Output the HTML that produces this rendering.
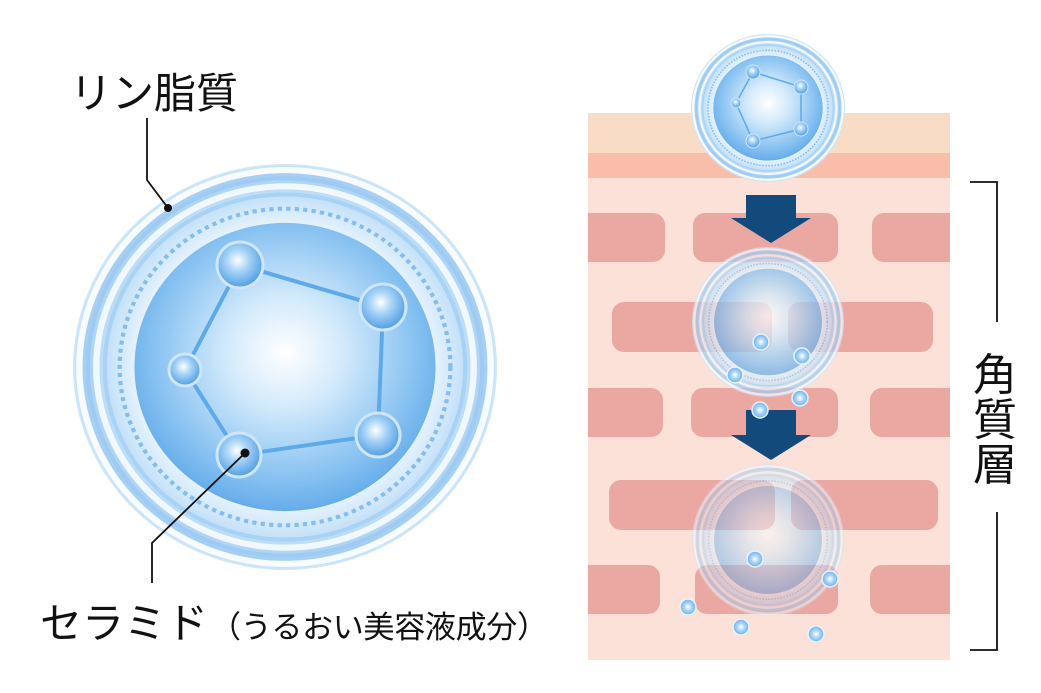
<!DOCTYPE html>
<html><head><meta charset="utf-8"><style>
html,body{margin:0;padding:0;background:#fff;}
svg{display:block;}
text{font-family:"Liberation Sans","Noto Sans CJK JP",sans-serif;fill:#111;}
</style></head><body>
<svg width="1041" height="693" viewBox="0 0 1041 693" xmlns="http://www.w3.org/2000/svg">
<defs>
<radialGradient id="core" cx="50%" cy="45%" r="55%">
<stop offset="0" stop-color="#ffffff"/><stop offset="0.35" stop-color="#d3eafb"/><stop offset="0.8" stop-color="#86c1f1"/><stop offset="1" stop-color="#66acea"/>
</radialGradient>
<radialGradient id="ring" cx="50%" cy="50%" r="50%">
<stop offset="0.7" stop-color="#e6f3fd"/><stop offset="0.85" stop-color="#c2e0f8"/><stop offset="0.95" stop-color="#a4cff4"/><stop offset="1" stop-color="#d2e9fa"/>
</radialGradient>
<radialGradient id="ball" cx="45%" cy="40%" r="60%">
<stop offset="0" stop-color="#ffffff"/><stop offset="0.4" stop-color="#a8d4f7"/><stop offset="1" stop-color="#4f9de3"/>
</radialGradient>
<radialGradient id="drop" cx="50%" cy="50%" r="50%">
<stop offset="0" stop-color="#ffffff"/><stop offset="0.5" stop-color="#a6d3f5"/><stop offset="1" stop-color="#6fb2ea"/>
</radialGradient>
<clipPath id="skin"><rect x="588" y="113" width="362" height="547"/></clipPath>
<g id="cell">
<circle r="100" fill="url(#ring)"/>
<circle r="97" fill="none" stroke="#fff" stroke-width="3" opacity="0.9"/>
<circle r="93" fill="none" stroke="#9fcbf2" stroke-width="2"/>
<circle r="89" fill="none" stroke="#fff" stroke-width="3" opacity="0.8"/>
<circle r="85" fill="none" stroke="#a9d3f5" stroke-width="2"/>
<circle r="78" fill="none" stroke="#86bdec" stroke-width="2" stroke-dasharray="2 2"/>
<circle r="71" fill="url(#core)"/>
</g>
</defs>

<!-- LEFT big cell -->
<g transform="translate(285,367) scale(2.12,2.03)">
<use href="#cell"/>
</g>
<g stroke="#5ea9ea" stroke-width="4" fill="none">
<polyline points="240,265 383,307 378,435 239,455 185,370 240,265"/>
</g>
<g>
<circle cx="240" cy="265" r="23" fill="url(#ball)" stroke="#cfe6fa" stroke-width="3"/>
<circle cx="383" cy="307" r="23" fill="url(#ball)" stroke="#cfe6fa" stroke-width="3"/>
<circle cx="185" cy="370" r="16" fill="url(#ball)" stroke="#cfe6fa" stroke-width="3"/>
<circle cx="239" cy="455" r="22" fill="url(#ball)" stroke="#cfe6fa" stroke-width="3"/>
<circle cx="378" cy="435" r="22" fill="url(#ball)" stroke="#cfe6fa" stroke-width="3"/>
</g>

<!-- leaders -->
<polyline points="147,118 147,180 168,208" fill="none" stroke="#111" stroke-width="1.8"/>
<circle cx="168" cy="208" r="4" fill="#111"/>
<polyline points="245,453 152,543 152,583" fill="none" stroke="#111" stroke-width="1.8"/>
<circle cx="245" cy="453" r="4.5" fill="#111"/>

<text x="70" y="108" font-size="42">リン脂質</text>
<text x="40" y="638" font-size="42">セラミド</text>
<text x="210" y="638" font-size="31" textLength="338" lengthAdjust="spacing">（うるおい美容液成分）</text>

<!-- RIGHT skin -->
<rect x="588" y="113" width="362" height="40" fill="#f9dcc6"/>
<rect x="588" y="153" width="362" height="25" fill="#f8bea9"/>
<rect x="588" y="178" width="362" height="482" fill="#fbe1d7"/>
<g fill="#eba7a1" clip-path="url(#skin)">
<rect x="570" y="213" width="95" height="49" rx="12"/>
<rect x="693" y="213" width="145" height="49" rx="12"/>
<rect x="872" y="213" width="100" height="49" rx="12"/>
<rect x="612" y="302" width="160" height="50" rx="12"/>
<rect x="788" y="302" width="145" height="50" rx="12"/>
<rect x="570" y="388" width="93" height="49" rx="12"/>
<rect x="691" y="388" width="147" height="49" rx="12"/>
<rect x="870" y="388" width="102" height="49" rx="12"/>
<rect x="609" y="480" width="166" height="50" rx="12"/>
<rect x="791" y="480" width="147" height="50" rx="12"/>
<rect x="570" y="565" width="90" height="49" rx="12"/>
<rect x="695" y="565" width="143" height="49" rx="12"/>
<rect x="870" y="565" width="102" height="49" rx="12"/>
</g>

<!-- top cell -->
<g transform="translate(768,108) scale(0.77,0.74)"><use href="#cell"/></g>
<g stroke="#5ea9ea" stroke-width="1.5" fill="none"><polyline points="753,72 801,87 801,129 753,141 736,103 753,72"/></g>
<g fill="url(#ball)" stroke="#cfe6fa" stroke-width="1">
<circle cx="753" cy="72" r="7"/><circle cx="801" cy="87" r="7"/><circle cx="801" cy="129" r="7"/><circle cx="753" cy="141" r="7"/><circle cx="736" cy="103" r="5"/>
</g>

<!-- arrows -->
<g fill="#134a7c">
<rect x="746" y="195" width="50" height="23"/>
<polygon points="731,218 811,218 771,243"/>
<rect x="746" y="410" width="50" height="25"/>
<polygon points="731,435 811,435 771,460"/>
</g>

<!-- cell 2 -->
<g transform="translate(768,322) scale(0.76,0.75)" opacity="0.72"><use href="#cell"/></g>
<!-- cell 3 -->
<g transform="translate(768,540) scale(0.76,0.76)" opacity="0.5"><use href="#cell"/></g>

<!-- droplets -->
<g fill="url(#drop)" stroke="#e6f3fd" stroke-width="1.5">
<circle cx="761" cy="342" r="8"/><circle cx="802" cy="356" r="8"/><circle cx="735" cy="375" r="8"/>
<circle cx="760" cy="410" r="8"/><circle cx="800" cy="398" r="8"/>
<circle cx="755" cy="559" r="8"/><circle cx="830" cy="579" r="8"/><circle cx="688" cy="607" r="8"/>
<circle cx="741" cy="627" r="8"/><circle cx="816" cy="634" r="8"/>
</g>

<!-- bracket -->
<polyline points="970,182 997,182 997,322" fill="none" stroke="#111" stroke-width="1.8"/>
<polyline points="997,512 997,650 970,650" fill="none" stroke="#111" stroke-width="1.8"/>
<text x="995" y="390" font-size="44" text-anchor="middle">角</text>
<text x="995" y="435" font-size="44" text-anchor="middle">質</text>
<text x="995" y="480" font-size="44" text-anchor="middle">層</text>
</svg>
</body></html>
